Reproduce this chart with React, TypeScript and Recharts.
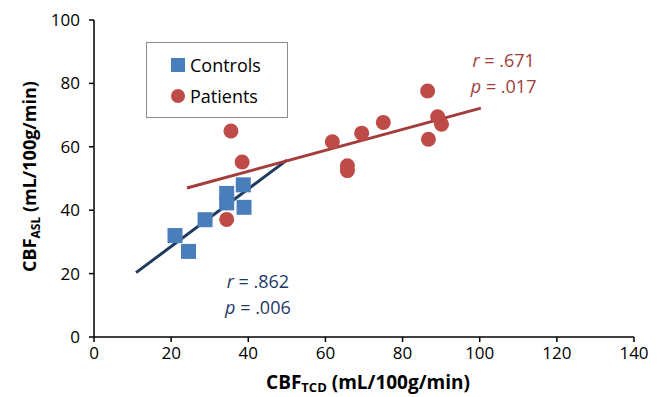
import React from 'react';
import { ScatterChart, Scatter, XAxis, YAxis, Label } from 'recharts';

const controlsX = [21, 24.5, 28.8, 34.4, 34.4, 38.7, 38.9];
const controlsY = [32, 27, 37, 45.3, 42.3, 48, 40.9];
const patientsX = [35.5, 38.4, 34.4, 61.8, 65.7, 65.7, 69.4, 75, 86.5, 89.1, 90.1, 86.7];
const patientsY = [65, 55.2, 37.1, 61.6, 54, 52.5, 64.3, 67.7, 77.6, 69.5, 67.1, 62.4];
const controlsFitX = [10.9, 50];
const controlsFitY = [20.3, 55.8];
const patientsFitX = [24.1, 100.3];
const patientsFitY = [47, 72.2];
const xTicks = [0, 20, 40, 60, 80, 100, 120, 140];
const yTicks = [0, 20, 40, 60, 80, 100];
const seriesNames = ['Controls', 'Patients'];
const patientsStats = { r: '.671', p: '.017', x: 106.2, yr: 87.4, yp: 79.2 };
const controlsStats = { r: '.862', p: '.006', x: 42.5, yr: 17.8, yp: 9.6 };

const zip = (xs: number[], ys: number[]) => xs.map((x, i) => ({ x, y: ys[i] }));
const controls = zip(controlsX, controlsY);
const patients = zip(patientsX, patientsY);
const controlsFit = zip(controlsFitX, controlsFitY);
const patientsFit = zip(patientsFitX, patientsFitY);

const BLUE = '#4A7EBB';
const RED = '#BE4B48';
const NAVY = '#1F3A5F';
const DARKRED = '#A33D3B';
const NAVYTEXT = '#1F3864';
const REDTEXT = '#A0403E';
const FONT = '"Open Sans", sans-serif';

const Square = (props: any) => {
  const { cx, cy } = props;
  return <rect x={cx - 7.5} y={cy - 7.5} width={15} height={15} fill={BLUE} />;
};
const Dot = (props: any) => {
  const { cx, cy } = props;
  return <circle cx={cx} cy={cy} r={7.5} fill={RED} />;
};
const Empty = () => <g />;

const makeStatText = (letter: string, value: string, color: string) => (props: any) => {
  const { cx, cy } = props;
  return (
    <text x={cx} y={cy} textAnchor="middle" dominantBaseline="central" fontFamily={FONT} fontSize={18} fill={color}>
      <tspan fontStyle="italic">{letter}</tspan>
      <tspan>{' = ' + value}</tspan>
    </text>
  );
};

const LegendBox = () => (
  <div
    style={{
      position: 'absolute',
      left: 146,
      top: 42,
      border: '1px solid #8c8c8c',
      width: 142,
      height: 76,
      boxSizing: 'border-box',
      fontFamily: FONT,
      fontSize: 18,
      color: '#000',
      background: '#fff',
      paddingTop: 6,
    }}
  >
    <div style={{ display: 'flex', alignItems: 'center', marginLeft: 24, height: 31 }}>
      <span style={{ display: 'inline-block', width: 14, height: 14, background: BLUE, marginRight: 5 }} />
      <span>{seriesNames[0]}</span>
    </div>
    <div style={{ display: 'flex', alignItems: 'center', marginLeft: 24, height: 31 }}>
      <span style={{ display: 'inline-block', width: 14, height: 14, borderRadius: 7, background: RED, marginRight: 5 }} />
      <span>{seriesNames[1]}</span>
    </div>
  </div>
);

const XTitle = (props: any) => {
  const { viewBox } = props;
  const cx = viewBox.x + viewBox.width / 2 + 4;
  return (
    <text x={cx} y={389} textAnchor="middle" fontFamily={FONT} fontWeight="bold" fontSize={19} fill="#000">
      <tspan>CBF</tspan>
      <tspan fontSize={13} dy={3}>TCD</tspan>
      <tspan dy={-3}> (mL/100g/min)</tspan>
    </text>
  );
};

const YTitle = (props: any) => {
  const { viewBox } = props;
  const cy = viewBox.y + viewBox.height / 2 - 2;
  const x = 36;
  return (
    <text x={x} y={cy} transform={`rotate(-90 ${x} ${cy})`} textAnchor="middle" fontFamily={FONT} fontWeight="bold" fontSize={18} fill="#000">
      <tspan>CBF</tspan>
      <tspan fontSize={12} dy={4}>ASL</tspan>
      <tspan dy={-4}> (mL/100g/min)</tspan>
    </text>
  );
};

export default function App() {
  const tickStyle = { fontFamily: FONT, fontSize: 17, fill: '#000' };
  return (
    <div style={{ position: 'absolute', left: 0, top: 0, width: 662, height: 397, background: '#fff' }}>
      <ScatterChart width={662} height={397} margin={{ top: 20, right: 28, bottom: 0, left: 0 }}>
        <XAxis
          type="number"
          dataKey="x"
          domain={[0, 140]}
          ticks={xTicks}
          interval={0}
          height={60}
          tick={tickStyle}
          tickSize={5}
          tickMargin={5}
          stroke="#000"
          strokeWidth={1.5}
          allowDataOverflow
        >
          <Label content={<XTitle />} />
        </XAxis>
        <YAxis
          type="number"
          dataKey="y"
          domain={[0, 100]}
          ticks={yTicks}
          interval={0}
          width={94}
          tick={tickStyle}
          tickSize={5}
          tickMargin={9}
          stroke="#000"
          strokeWidth={1.5}
          allowDataOverflow
        >
          <Label content={<YTitle />} />
        </YAxis>
        <Scatter name="Controls fit" data={controlsFit} line={{ stroke: NAVY, strokeWidth: 3 }} shape={<Empty />} legendType="none" isAnimationActive={false} />
        <Scatter name="Patients fit" data={patientsFit} line={{ stroke: DARKRED, strokeWidth: 3 }} shape={<Empty />} legendType="none" isAnimationActive={false} />
        <Scatter name={seriesNames[0]} data={controls} shape={<Square />} isAnimationActive={false} />
        <Scatter name={seriesNames[1]} data={patients} shape={<Dot />} isAnimationActive={false} />
        <Scatter data={[{ x: patientsStats.x, y: patientsStats.yr }]} shape={makeStatText('r', patientsStats.r, REDTEXT)} legendType="none" isAnimationActive={false} />
        <Scatter data={[{ x: patientsStats.x, y: patientsStats.yp }]} shape={makeStatText('p', patientsStats.p, REDTEXT)} legendType="none" isAnimationActive={false} />
        <Scatter data={[{ x: controlsStats.x, y: controlsStats.yr }]} shape={makeStatText('r', controlsStats.r, NAVYTEXT)} legendType="none" isAnimationActive={false} />
        <Scatter data={[{ x: controlsStats.x, y: controlsStats.yp }]} shape={makeStatText('p', controlsStats.p, NAVYTEXT)} legendType="none" isAnimationActive={false} />
      </ScatterChart>
      <LegendBox />
    </div>
  );
}
